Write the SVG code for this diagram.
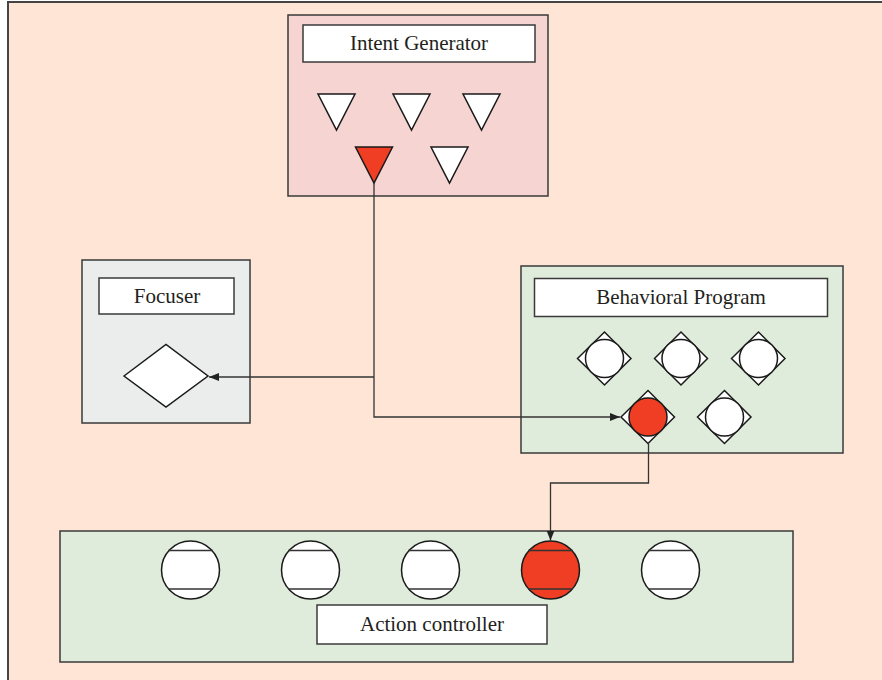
<svg xmlns="http://www.w3.org/2000/svg" width="882" height="680" viewBox="0 0 882 680">
<defs>
<style>
.box{stroke:#3a3a3a;stroke-width:1.5}
.lbl{fill:#fff;stroke:#3a3a3a;stroke-width:1.5}
.t{font-family:"Liberation Serif","Times New Roman",serif;font-size:21px;fill:#231f20;text-anchor:middle;dominant-baseline:central}
.w{fill:#fff;stroke:#1a1a1a;stroke-width:1.5}
.r{fill:#ef3e23;stroke:#1a1a1a;stroke-width:1.5}
.ln{fill:none;stroke:#333;stroke-width:1.3}
</style>
<marker id="ah" viewBox="0 0 10 10" refX="10" refY="5" markerWidth="10" markerHeight="10" markerUnits="userSpaceOnUse" orient="auto">
<path d="M0,1 L10,5 L0,9 z" fill="#222"/>
</marker>
</defs>
<rect x="8" y="2" width="880" height="690" fill="#fee5d6" stroke="#444" stroke-width="2"/>

<g id="intent-generator">
<rect class="box" x="288" y="15" width="260" height="181" fill="#f6d4d2"/>
<rect class="lbl" x="303" y="25" width="232" height="37"/>
<text class="t" x="419" y="43">Intent Generator</text>
<polygon class="w" points="318,94 355,94 336.5,130"/>
<polygon class="w" points="393,94 430,94 411.5,130"/>
<polygon class="w" points="463,94 500,94 481.5,130"/>
<polygon class="r" points="355.5,147 392.5,147 374,183"/>
<polygon class="w" points="431,147 468,147 449.5,183"/>
</g>

<g id="focuser">
<rect class="box" x="82" y="260" width="168" height="163" fill="#ebedec"/>
<rect class="lbl" x="99" y="278" width="135" height="36" fill="#f6fafc"/>
<text class="t" x="167" y="296">Focuser</text>
<polygon class="w" points="124,376 166,344.5 208,376 166,407"/>
</g>

<g id="behavioral-program">
<rect class="box" x="521" y="266" width="322" height="187" fill="#e0ecdb"/>
<rect class="lbl" x="534.5" y="278.5" width="293" height="38"/>
<text class="t" x="681" y="297">Behavioral Program</text>
<polygon class="w" points="577.5,358.5 604.5,332 631,358.5 604.5,385"/>
<circle class="w" cx="604.5" cy="358.5" r="19"/>
<polygon class="w" points="654.5,358.5 681,332 707.5,358.5 681,385"/>
<circle class="w" cx="681" cy="358.5" r="19"/>
<polygon class="w" points="731.5,358.5 758.5,332 785,358.5 758.5,385"/>
<circle class="w" cx="758.5" cy="358.5" r="19"/>
<polygon class="w" points="621,417 648,390.5 674.5,417 648,443.5"/>
<circle class="r" cx="648" cy="417" r="19"/>
<polygon class="w" points="697.5,417 724.5,390.5 751,417 724.5,443.5"/>
<circle class="w" cx="724.5" cy="417" r="19"/>
</g>

<g id="action-controller">
<rect class="box" x="60" y="531" width="733" height="131" fill="#e0ecdb"/>
<circle class="w" cx="190.5" cy="570" r="29"/>
<line class="ln" x1="168" y1="550.5" x2="213" y2="550.5"/><line class="ln" x1="168" y1="589" x2="213" y2="589"/>
<circle class="w" cx="310.5" cy="570" r="29"/>
<line class="ln" x1="288" y1="550.5" x2="333" y2="550.5"/><line class="ln" x1="288" y1="589" x2="333" y2="589"/>
<circle class="w" cx="430.5" cy="570" r="29"/>
<line class="ln" x1="408" y1="550.5" x2="453" y2="550.5"/><line class="ln" x1="408" y1="589" x2="453" y2="589"/>
<circle class="r" cx="550.5" cy="570" r="29"/>
<line class="ln" x1="528" y1="550.5" x2="573" y2="550.5"/><line class="ln" x1="528" y1="589" x2="573" y2="589"/>
<circle class="w" cx="670.5" cy="570" r="29"/>
<line class="ln" x1="648" y1="550.5" x2="693" y2="550.5"/><line class="ln" x1="648" y1="589" x2="693" y2="589"/>
<rect class="lbl" x="317" y="605" width="230" height="39"/>
<text class="t" x="432" y="624">Action controller</text>
</g>

<g id="connectors">
<polyline class="ln" points="374,183 374,417 620,417" marker-end="url(#ah)"/>
<polyline class="ln" points="374,377 209,377" marker-end="url(#ah)"/>
<polyline class="ln" points="648.5,443.5 648.5,483 550.5,483 550.5,540.5" marker-end="url(#ah)"/>
</g>
</svg>
